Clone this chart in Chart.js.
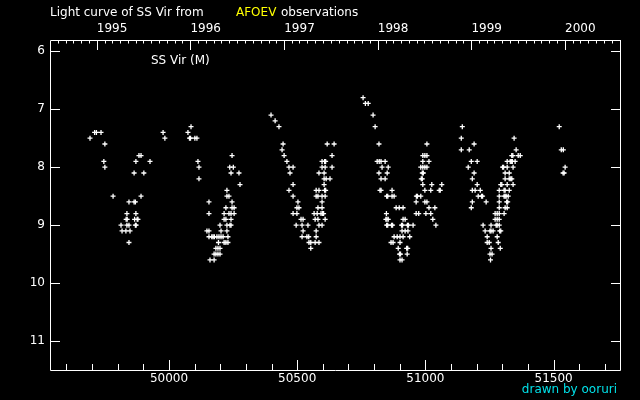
<!DOCTYPE html>
<html>
<head>
<meta charset="utf-8">
<title>Light curve of SS Vir</title>
<script src="https://cdn.jsdelivr.net/npm/chart.js@4.4.1/dist/chart.umd.min.js"></script>
<style>
    html, body { margin: 0; padding: 0; background: #000; }
    canvas { display: block; background: #000; }
</style>
</head>
<body>
<canvas id="lc" width="640" height="400"></canvas>
<script>
// --- DATA: [JD - 2400000, visual magnitude] per observing season ---
const season1995 = [
    [49692, 7.5], [49710, 7.4], [49717, 7.4], [49735, 7.4], [49750, 7.6], [49746, 7.9], [49750, 8.0],
    [49782, 8.5], [49844, 8.6], [49864, 8.6], [49869, 8.6], [49836, 8.8], [49871, 8.8],
    [49833, 8.9], [49837, 8.9], [49866, 8.9], [49876, 8.9], [49879, 8.9],
    [49813, 9.0], [49836, 9.0], [49844, 9.0], [49869, 9.0], [49872, 9.0],
    [49817, 9.1], [49832, 9.1], [49848, 9.1], [49844, 9.3],
    [49883, 7.8], [49891, 7.8], [49871, 7.9], [49926, 7.9], [49864, 8.1], [49902, 8.1], [49891, 8.5]
];
const season1996 = [
    [49977, 7.4], [49984, 7.5], [50074, 7.4], [50086, 7.3], [50080, 7.5], [50084, 7.5], [50101, 7.5], [50109, 7.5],
    [50113, 7.9], [50117, 8.0], [50117, 8.2], [50156, 8.6], [50156, 8.8], [50148, 9.1], [50156, 9.1],
    [50156, 9.2], [50167, 9.2], [50172, 9.2], [50177, 9.2], [50187, 9.2], [50195, 9.2], [50203, 9.2], [50211, 9.2], [50230, 9.2],
    [50193, 9.3], [50215, 9.3], [50222, 9.3], [50230, 9.3],
    [50183, 9.4], [50191, 9.4], [50199, 9.4],
    [50176, 9.5], [50183, 9.5], [50191, 9.5], [50199, 9.5], [50160, 9.6], [50176, 9.6],
    [50199, 9.0], [50226, 9.0], [50238, 9.0], [50242, 9.0], [50203, 9.1], [50226, 9.1],
    [50215, 8.9], [50222, 8.9], [50242, 8.9], [50215, 8.8], [50234, 8.8], [50242, 8.8], [50254, 8.8],
    [50222, 8.7], [50246, 8.7], [50254, 8.7], [50226, 8.5], [50234, 8.5], [50246, 8.6], [50226, 8.4],
    [50277, 8.3], [50242, 8.1], [50273, 8.1], [50237, 8.0], [50251, 8.0], [50246, 7.8]
];
const season1997 = [
    [50398, 7.1], [50414, 7.2], [50429, 7.3], [50445, 7.6], [50441, 7.7], [50449, 7.8], [50460, 7.9],
    [50468, 8.0], [50484, 8.0], [50472, 8.1], [50484, 8.3], [50468, 8.4], [50484, 8.5], [50503, 8.6],
    [50499, 8.7], [50507, 8.7], [50484, 8.8], [50499, 8.8], [50515, 8.9], [50523, 8.9],
    [50496, 9.0], [50519, 9.0], [50542, 9.0], [50523, 9.1], [50519, 9.2], [50538, 9.2], [50545, 9.2],
    [50546, 9.3], [50553, 9.3], [50553, 9.4], [50570, 9.3], [50585, 9.3], [50574, 9.2], [50574, 9.1],
    [50585, 9.0], [50597, 9.0], [50570, 8.9], [50581, 8.9], [50609, 8.9],
    [50566, 8.8], [50578, 8.8], [50593, 8.8], [50599, 8.8], [50603, 8.8], [50581, 8.7], [50597, 8.7], [50597, 8.6],
    [50574, 8.5], [50581, 8.5], [50597, 8.5], [50609, 8.5], [50574, 8.4], [50585, 8.4], [50607, 8.4], [50611, 8.4],
    [50605, 8.3], [50605, 8.2], [50613, 8.2], [50628, 8.2], [50585, 8.1], [50605, 8.1],
    [50597, 8.0], [50609, 8.0], [50636, 8.0], [50597, 7.9], [50607, 7.9], [50611, 7.9], [50636, 7.8],
    [50617, 7.6], [50644, 7.6]
];
const season1998 = [
    [50757, 6.8], [50766, 6.9], [50777, 6.9], [50796, 7.1], [50804, 7.3], [50819, 7.6],
    [50812, 7.9], [50820, 7.9], [50827, 7.9], [50843, 7.9], [50831, 8.0], [50855, 8.0], [50819, 8.1], [50851, 8.1],
    [50827, 8.2], [50843, 8.2], [50823, 8.4], [50827, 8.4], [50870, 8.4],
    [50849, 8.5], [50853, 8.5], [50870, 8.5], [50878, 8.5], [50848, 8.8], [50846, 8.9], [50850, 8.9], [50855, 8.9],
    [50849, 9.0], [50853, 9.0], [50868, 9.0], [50872, 9.0],
    [51006, 7.6], [50990, 7.8], [50998, 7.8], [51006, 7.8], [50990, 7.9], [51014, 7.9],
    [50982, 8.0], [50990, 8.0], [50998, 8.0], [51006, 8.0], [50988, 8.1], [50992, 8.1], [50984, 8.2], [50988, 8.2],
    [50990, 8.3], [51025, 8.3], [51064, 8.3], [50998, 8.4], [51021, 8.4], [51054, 8.4], [51058, 8.4],
    [50965, 8.5], [50969, 8.5], [50982, 8.5], [50964, 8.6], [50998, 8.6], [51006, 8.6],
    [50886, 8.7], [50898, 8.7], [50913, 8.7], [51014, 8.7], [51037, 8.7],
    [50964, 8.8], [50974, 8.8], [51002, 8.8], [51021, 8.8], [50913, 8.9], [50921, 8.9], [51029, 8.9],
    [50907, 9.0], [50911, 9.0], [50930, 9.0], [50934, 9.0], [50952, 9.0], [51041, 9.0],
    [50909, 9.1], [50921, 9.1], [50932, 9.1], [50878, 9.2], [50890, 9.2], [50901, 9.2], [50913, 9.2], [50939, 9.2],
    [50866, 9.3], [50874, 9.3], [50901, 9.3], [50894, 9.4], [50927, 9.4], [50931, 9.4],
    [50899, 9.5], [50903, 9.5], [50929, 9.5], [50901, 9.6], [50909, 9.6]
];
const season1999 = [
    [51144, 7.3], [51140, 7.5], [51190, 7.6], [51140, 7.7], [51171, 7.7], [51179, 7.9], [51202, 7.9],
    [51167, 8.0], [51190, 8.1], [51183, 8.2], [51202, 8.3], [51183, 8.4], [51194, 8.4], [51214, 8.4],
    [51206, 8.5], [51219, 8.5], [51223, 8.5], [51183, 8.6], [51237, 8.6], [51179, 8.7],
    [51346, 7.5], [51354, 7.7], [51337, 7.8], [51341, 7.8], [51362, 7.8], [51370, 7.8],
    [51319, 7.9], [51331, 7.9], [51335, 7.9], [51339, 7.9], [51350, 7.9],
    [51301, 8.0], [51305, 8.0], [51319, 8.0], [51342, 8.0], [51311, 8.1], [51327, 8.1],
    [51311, 8.2], [51327, 8.2], [51333, 8.2], [51337, 8.2], [51294, 8.3], [51298, 8.3], [51319, 8.3], [51342, 8.3],
    [51288, 8.4], [51307, 8.4], [51311, 8.4], [51327, 8.4], [51288, 8.5], [51307, 8.5], [51311, 8.5], [51315, 8.5], [51323, 8.5],
    [51288, 8.6], [51317, 8.6], [51321, 8.6], [51288, 8.7], [51311, 8.7], [51319, 8.7],
    [51272, 8.8], [51280, 8.8], [51288, 8.8], [51307, 8.8], [51272, 8.9], [51280, 8.9], [51288, 8.9],
    [51225, 9.0], [51256, 9.0], [51276, 9.0], [51280, 9.0], [51288, 9.0],
    [51233, 9.1], [51252, 9.1], [51256, 9.1], [51264, 9.1], [51290, 9.1], [51294, 9.1],
    [51241, 9.2], [51280, 9.2], [51241, 9.3], [51249, 9.3], [51284, 9.3], [51256, 9.4], [51292, 9.4],
    [51252, 9.5], [51260, 9.5], [51254, 9.6]
];
const season2000 = [
    [51522, 7.3], [51530, 7.7], [51538, 7.7], [51545, 8.0], [51537, 8.1], [51541, 8.1]
];

const xTicks = [50000, 50500, 51000, 51500];
const yTicks = [6, 7, 8, 9, 10, 11];
const years = [1995, 1996, 1997, 1998, 1999, 2000];

const X_MIN = 49536, X_MAX = 51759;
const Y_MIN = 5.805, Y_MAX = 11.5;

// JD - 2400000 of the first day of a month
const jdOf = (yr, m) => Date.UTC(yr, m, 1) / 86400000 + 40587.5;

Chart.defaults.font.family = '"DejaVu Sans", sans-serif';
Chart.defaults.font.size = 12;
Chart.defaults.color = '#fff';

// frame, inward ticks and the free texts
const framePlugin = {
    id: 'frame',
    afterDraw(chart) {
        const { ctx, chartArea: a, scales: { x, y } } = chart;
        const line = (x1, y1, x2, y2) => { ctx.moveTo(x1, y1); ctx.lineTo(x2, y2); };
        const px = v => Math.round(x.getPixelForValue(v)) + 0.5;
        const py = v => Math.round(y.getPixelForValue(v)) + 0.5;

        ctx.save();
        ctx.strokeStyle = '#fff';
        ctx.lineWidth = 1;
        ctx.beginPath();
        ctx.rect(a.left + 0.5, a.top + 0.5, a.right - a.left, a.bottom - a.top);

        // bottom: JD, minor every 100 days
        for (let v = Math.ceil(X_MIN / 100) * 100; v <= X_MAX; v += 100) {
            line(px(v), a.bottom, px(v), a.bottom - (v % 500 ? 6 : 10));
        }
        // top: years, minor every month
        for (let yr = years[0] - 1; yr <= years[years.length - 1]; yr++) {
            for (let m = 0; m < 12; m++) {
                const v = jdOf(yr, m);
                if (v < X_MIN || v > X_MAX) continue;
                line(px(v), a.top, px(v), a.top + (m ? 3.5 : 10));
            }
        }
        // left and right magnitude ticks
        yTicks.forEach(v => {
            line(a.left, py(v), a.left + 10, py(v));
            line(a.right + 1, py(v), a.right - 9, py(v));
        });
        ctx.stroke();

        ctx.font = '12px "DejaVu Sans"';
        ctx.textBaseline = 'middle';
        ctx.fillStyle = '#fff';
        ctx.fillText('Light curve of SS Vir from', 50, 13);
        ctx.fillStyle = '#ffff00';
        ctx.fillText('AFOEV', 236, 13);
        ctx.fillStyle = '#fff';
        ctx.fillText('observations', 281, 13);
        ctx.fillText('SS Vir (M)', 151, 61);
        ctx.fillStyle = '#00e0e8';
        ctx.textAlign = 'right';
        ctx.fillText('drawn by ooruri', 617, 390);
        ctx.restore();
    }
};

const points = [season1995, season1996, season1997, season1998, season1999, season2000]
    .flat()
    .map(([jd, mag]) => ({ x: jd, y: mag }));

const noGrid = { display: false, drawTicks: false };

new Chart(document.getElementById('lc'), {
    type: 'scatter',
    data: {
        datasets: [{
            label: 'SS Vir',
            data: points,
            pointStyle: 'cross',
            pointRadius: 2.5,
            borderWidth: 1.3,
            borderColor: '#fff',
            backgroundColor: '#fff'
        }]
    },
    options: {
        responsive: false,
        animation: false,
        devicePixelRatio: 1,
        layout: { padding: { left: 0, top: 0, right: 20, bottom: 0 } },
        plugins: {
            legend: { display: false },
            tooltip: { enabled: false }
        },
        scales: {
            x: {
                type: 'linear',
                position: 'bottom',
                min: X_MIN,
                max: X_MAX,
                grid: noGrid,
                border: { display: false },
                afterBuildTicks: s => { s.ticks = xTicks.map(v => ({ value: v })); },
                afterFit: s => { s.height = 30; },
                ticks: { color: '#fff', padding: 2, maxRotation: 0, autoSkip: false, callback: v => String(v) }
            },
            xTop: {
                type: 'linear',
                axis: 'x',
                position: 'top',
                min: X_MIN,
                max: X_MAX,
                grid: noGrid,
                border: { display: false },
                afterBuildTicks: s => { s.ticks = years.map(yr => ({ value: jdOf(yr, 0) })); },
                afterFit: s => { s.height = 40; },
                ticks: { color: '#fff', padding: 4, align: 'start', maxRotation: 0, autoSkip: false, callback: (v, i) => String(years[i]) }
            },
            y: {
                type: 'linear',
                reverse: true,
                min: Y_MIN,
                max: Y_MAX,
                grid: noGrid,
                border: { display: false },
                afterBuildTicks: s => { s.ticks = yTicks.map(v => ({ value: v })); },
                afterFit: s => { s.width = 50; },
                ticks: { color: '#fff', padding: 5, autoSkip: false, callback: v => String(v) }
            }
        }
    },
    plugins: [framePlugin]
});
</script>
</body>
</html>
